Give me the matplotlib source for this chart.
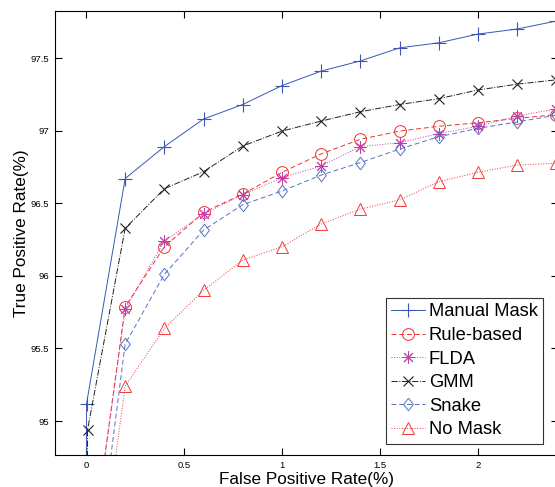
import matplotlib
matplotlib.use('Agg')
import matplotlib.pyplot as plt

plt.rcParams['font.family'] = ['Liberation Sans', 'DejaVu Sans']

# false positive rate (%) sample points
fpr = [0.0, 0.2, 0.4, 0.6, 0.8, 1.0, 1.2, 1.4, 1.6, 1.8, 2.0, 2.2, 2.4]

# true positive rate (%) per method, first entry sits below the visible range
manual = [95.12, 96.67, 96.89, 97.08, 97.18, 97.31, 97.41, 97.48, 97.57, 97.605, 97.665, 97.70, 97.755]
rule = [93.81, 95.787, 96.20, 96.437, 96.563, 96.713, 96.84, 96.94, 96.997, 97.03, 97.054, 97.085, 97.11]
flda = [93.80, 95.77, 96.24, 96.426, 96.56, 96.676, 96.756, 96.89, 96.917, 96.98, 97.03, 97.10, 97.15]
gmm = [94.94, 96.327, 96.60, 96.717, 96.894, 96.997, 97.066, 97.13, 97.18, 97.22, 97.28, 97.32, 97.35]
snake = [93.42, 95.53, 96.01, 96.315, 96.49, 96.584, 96.694, 96.78, 96.873, 96.958, 97.016, 97.06, 97.107]
nomask = [93.24, 95.24, 95.638, 95.90, 96.109, 96.20, 96.357, 96.46, 96.522, 96.648, 96.713, 96.763, 96.775]

# manual mask and GMM drop straight down at zero
x_manual = [0.003, 0.003] + fpr[1:]
y_manual = [90.0] + manual
x_gmm = [0.008, 0.008] + fpr[1:]
y_gmm = [90.0] + gmm

# matlab style diamond, a bit narrower than tall
diamond = [(0, 1), (0.78, 0), (0, -1), (-0.78, 0), (0, 1)]

fig = plt.figure(figsize=(5.55, 4.87), dpi=100)
ax = fig.add_axes([55 / 555, 32 / 487, 503.3 / 555, 444 / 487])

lw = 0.7
ax.plot(x_manual, y_manual, '-', color='#3a56b4', lw=lw, marker='+', ms=10, mew=0.8,
        markevery=list(range(1, len(x_manual))), label='Manual Mask')
ax.plot(fpr, rule, '--', color='#f03030', lw=lw, marker='o', ms=8.5, mfc='none', mew=0.7,
        markevery=list(range(1, len(fpr))), label='Rule-based', dashes=(5, 3))
ax.plot(fpr, flda, ':', color='#c040a8', lw=lw, marker=(8, 2, 0), ms=9, mew=0.7,
        markevery=list(range(1, len(fpr))), label='FLDA')
ax.plot(x_gmm, y_gmm, '-.', color='#202020', lw=lw, marker='x', ms=7, mew=0.8,
        markevery=list(range(1, len(x_gmm))), label='GMM')
ax.plot(fpr, snake, '--', color='#5472c8', lw=lw, marker=diamond, ms=9, mfc='none', mew=0.7,
        markevery=list(range(1, len(fpr))), label='Snake', dashes=(5, 3))
ax.plot(fpr, nomask, ':', color='#f03a3a', lw=lw, marker='^', ms=8.5, mfc='none', mew=0.7,
        markevery=list(range(1, len(fpr))), label='No Mask')

ax.set_xlim(-0.158, 2.41)
ax.set_ylim(94.766, 97.824)
ax.set_xticks([0, 0.5, 1, 1.5, 2])
ax.set_xticklabels(['0', '0.5', '1', '1.5', '2'])
ax.set_yticks([95, 95.5, 96, 96.5, 97, 97.5])
ax.set_yticklabels(['95', '95.5', '96', '96.5', '97', '97.5'])
ax.tick_params(direction='in', top=True, right=True, labelsize=6.8, length=5, width=0.8, pad=4)
for s in ax.spines.values():
    s.set_linewidth(0.8)

ax.set_xlabel('False Positive Rate(%)', fontsize=12.3, labelpad=2)
ax.set_ylabel('True Positive Rate(%)', fontsize=12.3, labelpad=1.5)

leg = ax.legend(loc='lower right', bbox_to_anchor=(488.3 / 503.3, 11 / 444), fontsize=13.2,
                frameon=True, fancybox=False, edgecolor='black', handlelength=1.85,
                handletextpad=0.2, labelspacing=0.36, borderpad=0.3, borderaxespad=0)
leg.get_frame().set_linewidth(0.8)

fig.savefig('out.png', dpi=100)
